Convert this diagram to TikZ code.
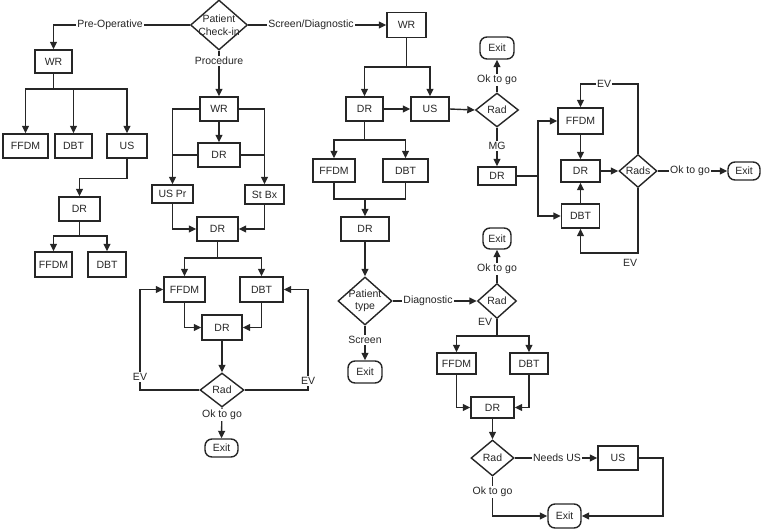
\documentclass[tikz,border=0pt]{standalone}
\usepackage{fontspec}
\setmainfont{Liberation Sans}
\usetikzlibrary{arrows.meta,shapes.geometric}
\begin{document}
\begin{tikzpicture}[x=1pt,y=-1pt,
  font=\fontsize{10.5}{12.5}\selectfont,
  every node/.style={text=black!85},
  ln/.style={line width=1.4pt, draw=black!85},
  arr/.style={ln, -{Triangle[length=7.5pt,width=7pt]}},
  bx/.style n args={2}{draw=black!85, line width=1.4pt, inner sep=0pt, minimum width=#1pt, minimum height=#2pt},
  ex/.style n args={2}{bx={#1}{#2}, rounded corners=7pt},
  dia/.style n args={2}{diamond, draw=black!85, line width=1.4pt, inner sep=0pt, minimum width=#1pt, minimum height=#2pt},
  lbl/.style={fill=white, inner sep=1pt}]
\useasboundingbox (0,0) rectangle (762,530);

% ---------- nodes ----------
\node[dia={57}{50}, label={[name=pcT, align=center]center:Patient\\Check-in}] (pc) at (219,25) {};

% pre-operative column
\node[bx={37}{23}] (wrA) at (53.5,61.5) {WR};
\node[bx={45}{24}] (ffA) at (25.5,146) {FFDM};
\node[bx={37}{24}] (dbA) at (73.5,146) {DBT};
\node[bx={40}{24}] (usA) at (127,146) {US};
\node[bx={41}{24}] (drA) at (79.5,209) {DR};
\node[bx={37}{25}] (ffA2) at (53.5,264.5) {FFDM};
\node[bx={38}{25}] (dbA2) at (107,264.5) {DBT};

% procedure column
\node[bx={38}{24}] (wrB) at (219,109) {WR};
\node[bx={42}{24}] (drB) at (219,155) {DR};
\node[bx={41}{18}] (usprB) at (172.5,194) {US Pr};
\node[bx={39}{19}] (stbxB) at (264.5,194.5) {St Bx};
\node[bx={41}{24}] (drB2) at (217.5,229) {DR};
\node[bx={41}{25}] (ffB) at (184.5,289.5) {FFDM};
\node[bx={43}{25}] (dbB) at (261.5,289.5) {DBT};
\node[bx={40}{25}] (drB3) at (222,327.5) {DR};
\node[dia={44}{34}, label={[name=radBT]center:Rad}] (radB) at (222,390) {};
\node[ex={33}{18}] (exitB) at (221.5,448) {Exit};

% screen / diagnostic column
\node[bx={39}{25}] (wrC) at (406.5,25) {WR};
\node[bx={37}{24}] (drC) at (364.5,109) {DR};
\node[bx={38}{24}] (usC) at (430,109) {US};
\node[dia={43}{34}, label={[name=radCT]center:Rad}] (radC) at (497,110) {};
\node[ex={34}{22}] (exitC) at (497,48) {Exit};
\node[bx={38}{18}] (drMG) at (497,176) {DR};
\node[bx={45}{26}] (ffR) at (580.5,121) {FFDM};
\node[bx={39}{22}] (drR) at (580.5,171) {DR};
\node[bx={38}{24}] (dbR) at (580.5,216) {DBT};
\node[dia={38}{33}, label={[name=radsT]center:Rads}] (rads) at (638,171) {};
\node[ex={32}{18}] (exitR) at (744,171) {Exit};

\node[bx={42}{23}] (ffC) at (334,170.5) {FFDM};
\node[bx={45}{23}] (dbC) at (405.5,170.5) {DBT};
\node[bx={48}{24}] (drC2) at (365,229) {DR};
\node[dia={54}{48}, label={[name=ptT, align=center]center:Patient\\type}] (pt) at (365,301) {};
\node[ex={34}{22}] (exitS) at (365,372) {Exit};
\node[dia={39}{35}, label={[name=radDT]center:Rad}] (radD) at (497,301) {};
\node[ex={28}{21}] (exitD) at (497,238.5) {Exit};
\node[bx={39}{21}] (ffD) at (456.5,363.5) {FFDM};
\node[bx={38}{21}] (dbD) at (529,363.5) {DBT};
\node[bx={43}{21}] (drD) at (492.5,407.5) {DR};
\node[dia={43}{36}, label={[name=radET]center:Rad}] (radE) at (492.5,458) {};
\node[bx={40}{24}] (usE) at (618,458) {US};
\node[ex={33}{24}] (exitE) at (564.5,516) {Exit};

% ---------- junction coordinates ----------
\coordinate (jA) at (53.5,89);
\coordinate (jA2) at (79.5,236);
\coordinate (jB) at (217.5,258);
\coordinate (jC) at (406.5,67);
\coordinate (jC2) at (364.5,140);
\coordinate (jC3) at (365,199);
\coordinate (jR) at (538,176);
\coordinate (jD) at (497,336);

% ---------- connectors ----------
% pre-operative
\draw[arr] (pc.west) -| (wrA.north);
\draw[ln] (wrA.south) -- (jA);
\draw[arr] (jA) -| (ffA.north);
\draw[arr] (jA) -| (dbA.north);
\draw[arr] (jA) -| (usA.north);
\draw[arr] (usA.south) -- ++(0,20) -| (drA.north);
\draw[ln] (drA.south) -- (jA2);
\draw[arr] (jA2) -| (ffA2.north);
\draw[arr] (jA2) -| (dbA2.north);

% procedure
\draw[arr] (pc.south) -- (wrB.north);
\draw[arr] (wrB.south) -- (drB.north);
\draw[arr] (wrB.west) -| (usprB.north);
\draw[ln] (drB.west) -- (drB.west -| usprB.north);
\draw[arr] (wrB.east) -| (stbxB.north);
\draw[ln] (drB.east) -- (drB.east -| stbxB.north);
\draw[arr] (usprB.south) |- (drB2.west);
\draw[arr] (stbxB.south) |- (drB2.east);
\draw[ln] (drB2.south) -- (jB);
\draw[arr] (jB) -| (ffB.north);
\draw[arr] (jB) -| (dbB.north);
\draw[arr] (ffB.south) |- (drB3.west);
\draw[arr] (dbB.south) |- (drB3.east);
\draw[arr] (drB3.south) -- (radB.north);
\draw[arr] (radB.west) -- (140,390) |- (ffB.west);
\draw[arr] (radB.east) -- (308,390) |- (dbB.east);
\draw[arr] (radB.south) -- (exitB.north);

% screen / diagnostic
\draw[arr] (pc.east) -- (pc.east -| wrC.west);
\draw[ln] (wrC.south) -- (jC);
\draw[arr] (jC) -| (drC.north);
\draw[arr] (jC) -| (usC.north);
\draw[arr] (drC.east) -- (usC.west);
\draw[arr] (usC.east) -- (radC.west);
\draw[arr] (radC.north) -- (exitC.south);
\draw[arr] (radC.south) -- (drMG.north);
\draw[ln] (drMG.east) -- (jR);
\draw[arr] (jR) |- (ffR.west);
\draw[arr] (jR) |- (dbR.west);
\draw[arr] (ffR.south) -- (drR.north);
\draw[arr] (dbR.north) -- (drR.south);
\draw[arr] (drR.east) -- (rads.west);
\draw[arr] (rads.north) -- (638,84) -| (ffR.north);
\draw[arr] (rads.south) -- (638,253) -| (dbR.south);
\draw[arr] (rads.east) -- (exitR.west);

\draw[ln] (drC.south) -- (jC2);
\draw[arr] (jC2) -| (ffC.north);
\draw[arr] (jC2) -| (dbC.north);
\draw[ln] (ffC.south) |- (jC3) -| (dbC.south);
\draw[arr] (jC3) -- (drC2.north);
\draw[arr] (drC2.south) -- (pt.north);
\draw[arr] (pt.south) -- (exitS.north);
\draw[arr] (pt.east) -- (radD.west);
\draw[arr] (radD.north) -- (exitD.south);
\draw[ln] (radD.south) -- (jD);
\draw[arr] (jD) -| (ffD.north);
\draw[arr] (jD) -| (dbD.north);
\draw[arr] (ffD.south) |- (drD.west);
\draw[arr] (dbD.south) |- (drD.east);
\draw[arr] (drD.south) -- (radE.north);
\draw[arr] (radE.east) -- (usE.west);
\draw[arr] (usE.east) -- (663,458) |- (exitE.east);
\draw[arr] (radE.south) |- (exitE.west);

% ---------- edge labels ----------
\node[lbl] (lPre) at (110,25) {Pre-Operative};
\node[lbl] (lProc) at (219,61) {Procedure};
\node[lbl] (lScr) at (311,25) {Screen/Diagnostic};
\node[lbl] (lEVb1) at (140,377) {EV};
\node[lbl] (lEVb2) at (308,381) {EV};
\node[lbl] (lOkB) at (222,415) {Ok to go};
\node[lbl] (lOkC) at (497,80) {Ok to go};
\node[lbl] (lMG) at (497,146) {MG};
\node[lbl] (lEVr1) at (604,84) {EV};
\node (lEVr2) at (630,263) {EV};
\node[lbl] (lOkR) at (690,171) {Ok to go};
\node[lbl] (lScreen) at (365,340) {Screen};
\node[lbl] (lDiag) at (428,301) {Diagnostic};
\node[lbl] (lOkD) at (497,269) {Ok to go};
\node (lEVd) at (485,322) {EV};
\node[lbl] (lNeeds) at (557,458) {Needs US};
\node[lbl] (lOkE) at (492.5,492) {Ok to go};
\end{tikzpicture}
\end{document}
